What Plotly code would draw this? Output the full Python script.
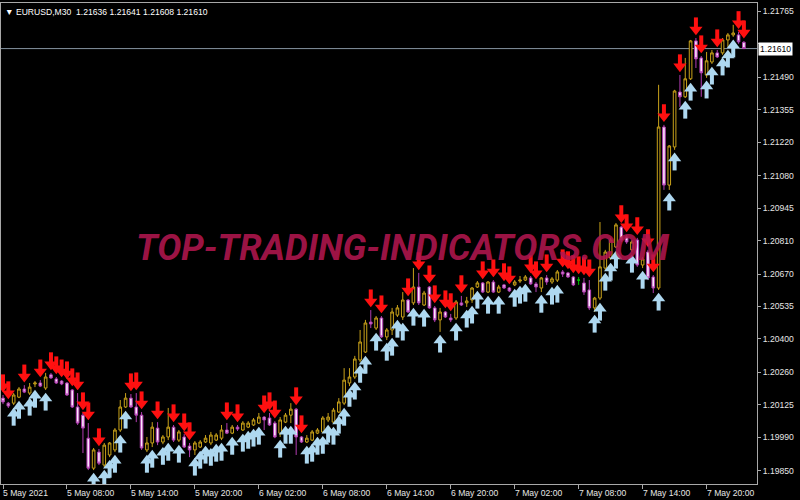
import plotly.graph_objects as go

# ---------------- data (EURUSD M30, 5 May 2021 02:00 -> 7 May 2021 23:30) ----------------
opens = [
    1.20153, 1.20132, 1.20132, 1.20157, 1.20191, 1.20174, 1.20212, 1.20216, 1.20195, 1.20250,
    1.20233, 1.20224, 1.20216, 1.20187, 1.20116, 1.20082, 1.19986, 1.19861, 1.19928, 1.19874,
    1.19916, 1.19937, 1.20020, 1.20116, 1.20153, 1.20116, 1.20082, 1.19937, 1.19966, 1.20028,
    1.19970, 1.19991, 1.20032, 1.19978, 1.19991, 1.19953, 1.19937, 1.19949, 1.19970, 1.19966,
    1.19978, 1.19986, 1.20020, 1.20007, 1.20032, 1.20020, 1.20032, 1.20041, 1.20049, 1.20074,
    1.20070, 1.20049, 1.20007, 1.20053, 1.20082, 1.20107, 1.19991, 1.19970, 1.19978, 1.20007,
    1.20012, 1.20062, 1.20053, 1.20095, 1.20132, 1.20216, 1.20241, 1.20312, 1.20345, 1.20470,
    1.20445, 1.20487, 1.20408, 1.20437, 1.20499, 1.20491, 1.20562, 1.20550, 1.20616, 1.20541,
    1.20616, 1.20529, 1.20479, 1.20512, 1.20487, 1.20487, 1.20550, 1.20550, 1.20562, 1.20616,
    1.20633, 1.20595, 1.20637, 1.20595, 1.20625, 1.20612, 1.20625, 1.20641, 1.20645, 1.20654,
    1.20629, 1.20612, 1.20654, 1.20637, 1.20645, 1.20679, 1.20675, 1.20658, 1.20645, 1.20633,
    1.20604, 1.20529, 1.20570, 1.20695, 1.20737, 1.20783, 1.20866, 1.20825, 1.20771, 1.20812,
    1.20708, 1.20762, 1.20658, 1.20612, 1.21283, 1.21041, 1.21200, 1.21429, 1.21409, 1.21484,
    1.21642, 1.21571, 1.21500, 1.21554, 1.21592, 1.21592, 1.21646, 1.21667, 1.21667, 1.21636,
]
highs = [
    1.20166, 1.20137, 1.20174, 1.20199, 1.20207, 1.20216, 1.20224, 1.20228, 1.20258, 1.20258,
    1.20241, 1.20228, 1.20220, 1.20191, 1.20174, 1.20091, 1.20049, 1.19945, 1.19941, 1.19966,
    1.19970, 1.20028, 1.20145, 1.20174, 1.20170, 1.20174, 1.20095, 1.19991, 1.20053, 1.20053,
    1.19999, 1.20112, 1.20041, 1.20020, 1.20003, 1.19966, 1.19974, 1.19978, 1.19999, 1.20012,
    1.20007, 1.20041, 1.20049, 1.20041, 1.20041, 1.20057, 1.20057, 1.20070, 1.20091, 1.20078,
    1.20091, 1.20057, 1.20074, 1.20091, 1.20132, 1.20112, 1.19995, 1.19999, 1.20020, 1.20028,
    1.20078, 1.20091, 1.20112, 1.20153, 1.20278, 1.20278, 1.20329, 1.20437, 1.20479, 1.20520,
    1.20495, 1.20495, 1.20445, 1.20529, 1.20541, 1.20595, 1.20566, 1.20695, 1.20675, 1.20600,
    1.20620, 1.20537, 1.20529, 1.20516, 1.20504, 1.20562, 1.20579, 1.20575, 1.20616, 1.20641,
    1.20637, 1.20641, 1.20645, 1.20625, 1.20629, 1.20616, 1.20645, 1.20662, 1.20666, 1.20662,
    1.20637, 1.20658, 1.20666, 1.20658, 1.20687, 1.20687, 1.20679, 1.20662, 1.20658, 1.20654,
    1.20645, 1.20575, 1.20887, 1.20771, 1.20821, 1.20883, 1.20871, 1.20833, 1.20812, 1.20821,
    1.20741, 1.20771, 1.20666, 1.21459, 1.21292, 1.21208, 1.21438, 1.21500, 1.21571, 1.21646,
    1.21654, 1.21579, 1.21596, 1.21604, 1.21604, 1.21654, 1.21675, 1.21709, 1.21680, 1.21641,
]
lows = [
    1.20128, 1.20112, 1.20124, 1.20153, 1.20174, 1.20166, 1.20199, 1.20199, 1.20187, 1.20233,
    1.20212, 1.20207, 1.20162, 1.20112, 1.20041, 1.19924, 1.19853, 1.19853, 1.19874, 1.19866,
    1.19907, 1.19928, 1.20012, 1.20112, 1.20112, 1.20053, 1.19937, 1.19928, 1.19949, 1.19957,
    1.19961, 1.19978, 1.19970, 1.19970, 1.19945, 1.19907, 1.19916, 1.19945, 1.19966, 1.19957,
    1.19974, 1.19978, 1.20003, 1.20003, 1.20016, 1.20016, 1.20028, 1.20037, 1.20045, 1.20020,
    1.20037, 1.19986, 1.19991, 1.20049, 1.20049, 1.19916, 1.19966, 1.19966, 1.19974, 1.20003,
    1.20007, 1.20053, 1.20045, 1.20091, 1.20124, 1.20203, 1.20233, 1.20303, 1.20341, 1.20445,
    1.20437, 1.20404, 1.20395, 1.20416, 1.20491, 1.20479, 1.20508, 1.20541, 1.20541, 1.20537,
    1.20525, 1.20470, 1.20429, 1.20487, 1.20470, 1.20479, 1.20537, 1.20533, 1.20550, 1.20612,
    1.20591, 1.20591, 1.20591, 1.20591, 1.20608, 1.20595, 1.20620, 1.20633, 1.20641, 1.20625,
    1.20595, 1.20595, 1.20625, 1.20629, 1.20637, 1.20658, 1.20654, 1.20620, 1.20625, 1.20583,
    1.20520, 1.20512, 1.20562, 1.20687, 1.20729, 1.20779, 1.20804, 1.20796, 1.20762, 1.20700,
    1.20695, 1.20645, 1.20591, 1.20604, 1.21021, 1.21021, 1.21188, 1.21367, 1.21404, 1.21479,
    1.21529, 1.21409, 1.21488, 1.21546, 1.21571, 1.21584, 1.21617, 1.21659, 1.21630, 1.21608,
]
closes = [
    1.20137, 1.20120, 1.20166, 1.20191, 1.20178, 1.20199, 1.20216, 1.20203, 1.20241, 1.20237,
    1.20216, 1.20212, 1.20166, 1.20116, 1.20049, 1.20028, 1.19861, 1.19937, 1.19882, 1.19957,
    1.19966, 1.20020, 1.20116, 1.20153, 1.20116, 1.20082, 1.19945, 1.19966, 1.20032, 1.19970,
    1.19991, 1.20032, 1.19978, 1.20012, 1.19949, 1.19937, 1.19966, 1.19970, 1.19986, 1.19999,
    1.19999, 1.20020, 1.20007, 1.20032, 1.20024, 1.20049, 1.20049, 1.20062, 1.20074, 1.20062,
    1.20041, 1.19991, 1.20062, 1.20082, 1.20107, 1.19991, 1.19970, 1.19986, 1.20012, 1.20020,
    1.20070, 1.20074, 1.20103, 1.20137, 1.20228, 1.20241, 1.20316, 1.20387, 1.20466, 1.20462,
    1.20487, 1.20408, 1.20437, 1.20512, 1.20529, 1.20562, 1.20512, 1.20616, 1.20550, 1.20591,
    1.20529, 1.20479, 1.20512, 1.20491, 1.20479, 1.20554, 1.20541, 1.20558, 1.20612, 1.20633,
    1.20595, 1.20637, 1.20595, 1.20616, 1.20612, 1.20600, 1.20637, 1.20645, 1.20658, 1.20629,
    1.20616, 1.20654, 1.20637, 1.20650, 1.20679, 1.20670, 1.20658, 1.20625, 1.20645, 1.20595,
    1.20529, 1.20570, 1.20700, 1.20762, 1.20812, 1.20875, 1.20812, 1.20804, 1.20804, 1.20708,
    1.20733, 1.20654, 1.20612, 1.21283, 1.21041, 1.21204, 1.21433, 1.21409, 1.21484, 1.21642,
    1.21567, 1.21509, 1.21559, 1.21592, 1.21575, 1.21646, 1.21667, 1.21675, 1.21638, 1.21610,
]

time_labels = ["5 May 2021", "5 May 08:00", "5 May 14:00", "5 May 20:00",
               "6 May 02:00", "6 May 08:00", "6 May 14:00", "6 May 20:00",
               "7 May 02:00", "7 May 08:00", "7 May 14:00", "7 May 20:00"]
time_label_bars = [0, 12, 24, 36, 48, 60, 72, 84, 96, 108, 120, 132]

price_ticks = [1.21765, 1.21630, 1.21490, 1.21355, 1.21220, 1.21080, 1.20945,
               1.20810, 1.20670, 1.20535, 1.20400, 1.20260, 1.20125, 1.19990, 1.19850]

symbol_name = "EURUSD,M30"
last_bar = [1.21636, 1.21641, 1.21608, 1.21610]   # open high low close
bid_price = 1.21610
watermark = "TOP-TRADING-INDICATORS.COM"

# ---------------- styles ----------------
BG = "#000000"
GOLD = "#c9a21a"
BEAR_LINE = "#b23cb2"
BEAR_FILL = "#fbe6fb"
DOJI = "#00c000"
RED = "#ff1010"
BLUE = "#aed8f0"
AXIS = "#a8a8a8"
TXT = "#e6e6e6"
FONT = "Liberation Sans"
PX = 0.0000417          # price per screen pixel (for arrow gaps)

n = len(opens)
idx = list(range(n))
is_doji = [o == c for o, c in zip(opens, closes)]
main_i = [i for i in idx if not is_doji[i]]
doji_i = [i for i in idx if is_doji[i]]

fig = go.Figure()

fig.add_trace(go.Candlestick(
    x=main_i,
    open=[opens[i] for i in main_i], high=[highs[i] for i in main_i],
    low=[lows[i] for i in main_i], close=[closes[i] for i in main_i],
    increasing=dict(line=dict(color=GOLD, width=1), fillcolor=BG),
    decreasing=dict(line=dict(color=BEAR_LINE, width=1), fillcolor=BEAR_FILL),
    whiskerwidth=0, hoverinfo="skip", showlegend=False,
))
if doji_i:
    fig.add_trace(go.Candlestick(
        x=doji_i,
        open=[opens[i] for i in doji_i], high=[highs[i] for i in doji_i],
        low=[lows[i] for i in doji_i], close=[closes[i] for i in doji_i],
        increasing=dict(line=dict(color=DOJI, width=1), fillcolor=DOJI),
        decreasing=dict(line=dict(color=DOJI, width=1), fillcolor=DOJI),
        whiskerwidth=0, hoverinfo="skip", showlegend=False,
    ))

# signal arrows: red above bearish bars, light blue below bullish bars
red_i = [i for i in idx if closes[i] <= opens[i]]
blue_i = [i for i in idx if closes[i] > opens[i]]

fig.add_trace(go.Scatter(
    x=red_i, y=[highs[i] + 15 * PX for i in red_i], mode="markers",
    marker=dict(symbol="line-ns", size=8, line=dict(color=RED, width=4)),
    hoverinfo="skip", showlegend=False))
fig.add_trace(go.Scatter(
    x=red_i, y=[highs[i] + 8.5 * PX for i in red_i], mode="markers",
    marker=dict(symbol="triangle-down", size=11.5, color=RED, line=dict(width=0)),
    hoverinfo="skip", showlegend=False))
fig.add_trace(go.Scatter(
    x=blue_i, y=[lows[i] - 15 * PX for i in blue_i], mode="markers",
    marker=dict(symbol="line-ns", size=8, line=dict(color=BLUE, width=4)),
    hoverinfo="skip", showlegend=False))
fig.add_trace(go.Scatter(
    x=blue_i, y=[lows[i] - 8.5 * PX for i in blue_i], mode="markers",
    marker=dict(symbol="triangle-up", size=11.5, color=BLUE, line=dict(width=0)),
    hoverinfo="skip", showlegend=False))

# bid line
fig.add_shape(type="line", xref="paper", x0=0, x1=1, yref="y", y0=bid_price, y1=bid_price,
              line=dict(color="#8593a0", width=1), layer="below")

annotations = []
# time labels (left-aligned at tick, MT4 style)
for b, lab in zip(time_label_bars, time_labels):
    annotations.append(dict(x=b, xref="x", y=0, yref="paper", text=lab, showarrow=False,
                            xanchor="left", yanchor="top", xshift=-2, yshift=-2,
                            font=dict(family=FONT, size=8.6, color=TXT)))
# header
header = "\u25bc " + symbol_name + "  " + " ".join(f"{v:.5f}" for v in last_bar)
annotations.append(dict(x=0, xref="paper", y=1, yref="paper", text=header, showarrow=False,
                        xanchor="left", yanchor="top", xshift=2, yshift=-2,
                        font=dict(family=FONT, size=8.6, color="#ffffff")))
# current price box (covers the tick label beneath it, as in the terminal)
annotations.append(dict(x=1, xref="paper", y=bid_price, yref="y", text=f"{bid_price:.5f}",
                        showarrow=False, xanchor="left", yanchor="middle", xshift=1,
                        bgcolor="#ffffff", borderpad=1,
                        font=dict(family=FONT, size=8.6, color="#000000")))
# watermark
annotations.append(dict(x=0.531, xref="paper", y=0.49, yref="paper", text=watermark,
                        showarrow=False, xanchor="center", yanchor="middle",
                        font=dict(family="Roboto", size=36, color="rgba(178,22,78,0.9)",
                                  weight="bold", style="italic")))

# the tick label hidden by the price box is left blank
tick_text = ["" if abs(v - bid_price) < 0.0003 else f"{v:.5f}" for v in price_ticks]

fig.update_layout(
    width=800, height=500,
    margin=dict(l=1, r=43, t=3, b=16),
    paper_bgcolor=BG, plot_bgcolor=BG,
    showlegend=False, hovermode=False,
    annotations=annotations,
    xaxis=dict(range=[-0.375, 141.46], rangeslider=dict(visible=False),
               tickmode="array", tickvals=time_label_bars, showticklabels=False,
               ticks="outside", ticklen=4, tickcolor=AXIS,
               showgrid=False, zeroline=False, showline=True, linecolor=AXIS,
               linewidth=1, mirror=True, fixedrange=True),
    yaxis=dict(range=[1.19795, 1.21800], side="right",
               tickmode="array", tickvals=price_ticks, ticktext=tick_text,
               ticks="outside", ticklen=3, tickcolor=AXIS,
               tickfont=dict(family=FONT, size=8.6, color=TXT),
               showgrid=False, zeroline=False, showline=True, linecolor=AXIS,
               linewidth=1, mirror=True, fixedrange=True),
)

fig.write_html("out.html")
